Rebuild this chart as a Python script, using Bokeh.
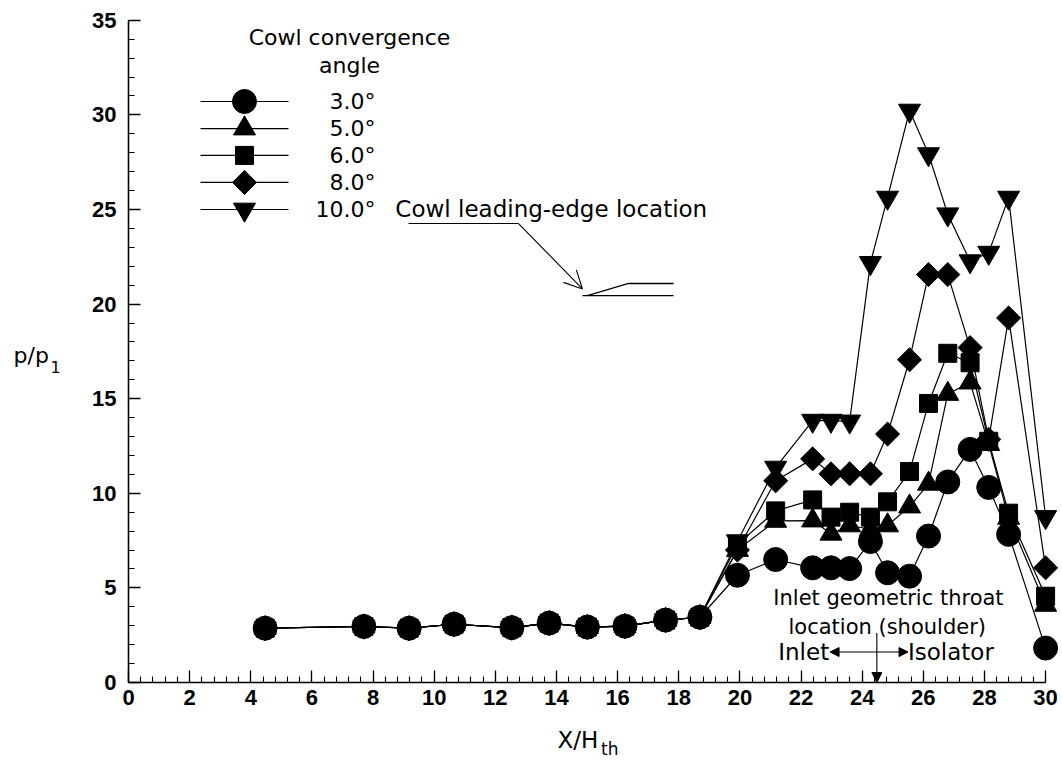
from bokeh.plotting import figure
from bokeh.models import (Range1d, SingleIntervalTicker, Label, Arrow, OpenHead,
                          NormalHead, ColumnDataSource)
from bokeh.embed import file_html
from bokeh.resources import INLINE
import math

# ---------------- data ----------------
x_taps = [4.47, 7.70, 9.18, 10.65, 12.54, 13.76, 15.01, 16.24, 17.57, 18.69,
          19.92, 21.17, 22.38, 22.98, 23.59, 24.27, 24.83, 25.55, 26.17, 26.80,
          27.53, 28.14, 28.79, 30.00]

p_3deg = [2.87, 2.96, 2.87, 3.08, 2.90, 3.14, 2.93, 2.98, 3.30, 3.45,
          5.67, 6.50, 6.06, 6.06, 6.02, 7.45, 5.80, 5.62, 7.74, 10.60,
          12.32, 10.31, 7.83, 1.82]
p_5deg = [2.87, 2.96, 2.87, 3.08, 2.90, 3.14, 2.93, 2.98, 3.30, 3.45,
          7.00, 8.54, 8.56, 7.86, 8.30, 8.10, 8.30, 9.30, 10.50, 15.25,
          15.85, 12.60, 8.70, 4.10]
p_6deg = [2.87, 2.96, 2.87, 3.08, 2.90, 3.14, 2.93, 2.98, 3.30, 3.45,
          7.30, 9.07, 9.65, 8.74, 9.00, 8.74, 9.55, 11.15, 14.75, 17.40,
          16.90, 12.75, 8.95, 4.56]
p_8deg = [2.87, 2.96, 2.87, 3.08, 2.90, 3.14, 2.93, 2.98, 3.30, 3.45,
          7.00, 10.66, 11.82, 11.03, 11.03, 11.03, 13.13, 17.06, 21.56, 21.56,
          17.70, 12.85, 19.27, 6.06]
p_10deg = [2.87, 2.96, 2.87, 3.08, 2.90, 3.14, 2.93, 2.98, 3.30, 3.45,
           7.47, 11.36, 13.84, 13.84, 13.80, 22.18, 25.63, 30.23, 27.93, 24.75,
           22.27, 22.72, 25.63, 8.75]

angle_labels = ["3.0°", "5.0°", "6.0°", "8.0°", "10.0°"]
x_axis_span = (0, 30)
y_axis_span = (0, 35)

FONT = "DejaVu Sans"
TICK_FONT = "Liberation Sans"

# frame fills the whole canvas; axes are pinned at the data origin
p = figure(width=1062, height=762, output_backend="svg", toolbar_location=None,
           x_range=Range1d(-4.187, 30.553), y_range=Range1d(-4.228, 36.047),
           min_border=0, min_border_left=0, min_border_right=0,
           min_border_top=0, min_border_bottom=0)
p.outline_line_color = None
p.grid.visible = False
p.background_fill_color = "white"
p.border_fill_color = "white"

xa = p.xaxis[0]
xa.ticker = SingleIntervalTicker(interval=2, num_minor_ticks=5)
xa.bounds = x_axis_span
xa.fixed_location = 0
ya = p.yaxis[0]
ya.ticker = SingleIntervalTicker(interval=5, num_minor_ticks=5)
ya.bounds = y_axis_span
ya.fixed_location = 0
for ax in (xa, ya):
    ax.axis_line_width = 1.6
    ax.axis_line_color = "black"
    ax.major_tick_in = 12
    ax.major_tick_out = 0
    ax.minor_tick_in = 6
    ax.minor_tick_out = 0
    ax.major_tick_line_color = "black"
    ax.minor_tick_line_color = "black"
    ax.major_tick_line_width = 1.3
    ax.minor_tick_line_width = 1.1
    ax.major_label_text_font = TICK_FONT
    ax.major_label_text_font_style = "bold"
    ax.major_label_text_font_size = "22px"
    ax.major_label_text_color = "black"
xa.major_label_standoff = 7
ya.major_label_standoff = 12

series = [
    (p_10deg, "inverted_triangle", 22, 0.0),
    (p_8deg, "square", 17, math.pi / 4),
    (p_6deg, "square", 18, 0.0),
    (p_5deg, "triangle", 22, 0.0),
    (p_3deg, "circle", 24, 0.0),
]
for vals, mk, sz, ang in series:
    src = ColumnDataSource(dict(x=x_taps, y=vals))
    p.line("x", "y", source=src, line_color="black", line_width=1.2)
    p.scatter("x", "y", source=src, marker=mk, size=sz, angle=ang,
              fill_color="black", line_color="black")


def text(x, y, s, size, align="left", baseline="alphabetic"):
    p.add_layout(Label(x=x, y=y, text=s, text_align=align, text_baseline=baseline,
                       text_font=FONT, text_font_size=size, text_color="black"))


# ---------------- legend (drawn in plot) ----------------
leg_rows_y = [30.71, 29.28, 27.86, 26.43, 25.00]
leg_markers = [("circle", 24, 0.0), ("triangle", 22, 0.0), ("square", 18, 0.0),
               ("square", 17, math.pi / 4), ("inverted_triangle", 22, 0.0)]
for yy, (mk, sz, ang), lab in zip(leg_rows_y, leg_markers, angle_labels):
    p.line([2.355, 5.234], [yy, yy], line_color="black", line_width=1.2)
    p.scatter([3.795], [yy], marker=mk, size=sz, angle=ang,
              fill_color="black", line_color="black")
    text(8.08, yy, lab, "22px", align="right", baseline="middle")
text(7.23, 34.09, "Cowl convergence", "22px", align="center")
text(7.23, 32.61, "angle", "22px", align="center")

# ---------------- cowl leading edge annotation ----------------
text(8.73, 25.05, "Cowl leading-edge location", "23px")
p.line([9.16, 12.76], [24.26, 24.26], line_color="black", line_width=1.1)
p.add_layout(Arrow(end=OpenHead(size=18, line_width=1.1, line_color="black"),
                   x_start=12.76, y_start=24.26, x_end=14.85, y_end=20.80,
                   line_width=1.1, line_color="black"))
p.line([14.85, 17.83], [20.45, 20.45], line_color="black", line_width=1.3)
p.line([15.01, 16.36, 17.83], [20.45, 21.09, 21.09], line_color="black", line_width=1.3)

# ---------------- throat annotation ----------------
text(24.86, 4.45, "Inlet geometric throat", "21px", align="center")
text(24.82, 2.96, "location (shoulder)", "21px", align="center")
text(22.92, 1.62, "Inlet", "23px", align="right")
text(25.50, 1.62, "Isolator", "23px")
p.add_layout(Arrow(start=NormalHead(size=9, fill_color="black", line_color="black"),
                   end=NormalHead(size=9, fill_color="black", line_color="black"),
                   x_start=22.95, y_start=1.61, x_end=25.50, y_end=1.61,
                   line_width=1.1, line_color="black"))
p.add_layout(Arrow(end=NormalHead(size=10, fill_color="black", line_color="black"),
                   x_start=24.48, y_start=2.62, x_end=24.48, y_end=0.0,
                   line_width=1.1, line_color="black"))

# ---------------- axis titles ----------------
text(-3.76, 17.27, "p/p", "22px")
text(-2.55, 16.69, "1", "16px")
text(14.03, -3.03, "X/H", "23px")
text(15.46, -3.50, "th", "17px")

open("out.html", "w").write(file_html(p, INLINE))
